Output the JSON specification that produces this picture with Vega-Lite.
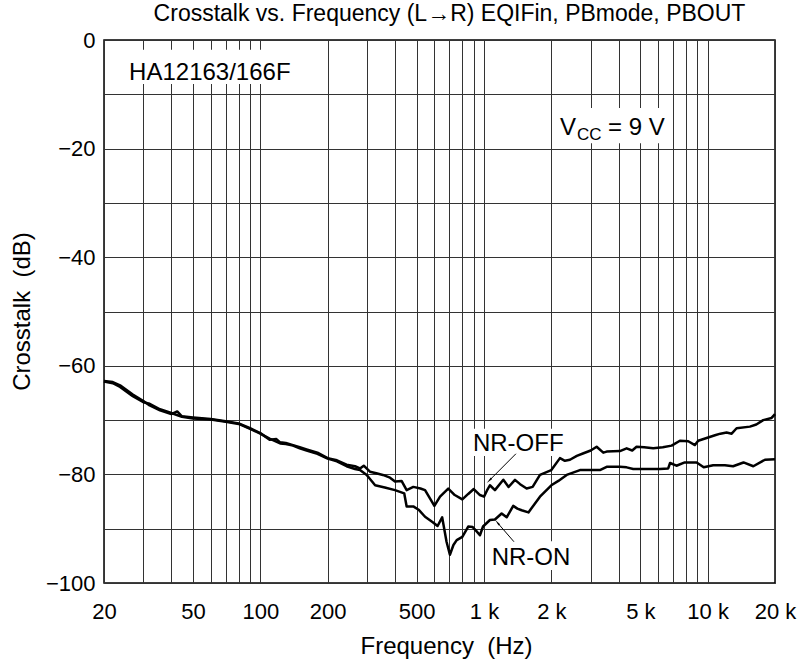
{
  "$schema": "https://vega.github.io/schema/vega-lite/v6.json",
  "width": 671,
  "height": 543,
  "autosize": {"type": "none"},
  "padding": {"left": 104, "top": 40, "right": 27, "bottom": 88},
  "background": "white",
  "config": {
    "font": "Liberation Sans",
    "view": {"stroke": "black", "strokeWidth": 1.5},
    "axis": {"labelFont": "Liberation Sans", "titleFont": "Liberation Sans", "labelColor": "black", "titleColor": "black", "titleFontWeight": "normal"}
  },
  "title": {
    "text": "Crosstalk vs. Frequency (L→R) EQIFin, PBmode, PBOUT",
    "fontSize": 23,
    "fontWeight": "normal",
    "font": "Liberation Sans",
    "color": "black",
    "anchor": "middle",
    "frame": "group",
    "offset": 3,
    "dx": 10
  },
  "datasets": {
    "curves": [
      {"series":"NR-OFF","f":20,"db":-62.8},{"series":"NR-OFF","f":21.9,"db":-63.0},{"series":"NR-OFF","f":23.6,"db":-63.6},{"series":"NR-OFF","f":26.9,"db":-65.3},{"series":"NR-OFF","f":30,"db":-66.5},{"series":"NR-OFF","f":32,"db":-67.3},{"series":"NR-OFF","f":35.6,"db":-68.2},{"series":"NR-OFF","f":40,"db":-68.9},{"series":"NR-OFF","f":42.5,"db":-68.4},{"series":"NR-OFF","f":44.6,"db":-69.3},{"series":"NR-OFF","f":50,"db":-69.5},{"series":"NR-OFF","f":60,"db":-69.8},{"series":"NR-OFF","f":70,"db":-70.2},{"series":"NR-OFF","f":80,"db":-70.6},{"series":"NR-OFF","f":90,"db":-71.5},{"series":"NR-OFF","f":100,"db":-72.4},{"series":"NR-OFF","f":110,"db":-73.6},{"series":"NR-OFF","f":118,"db":-73.5},{"series":"NR-OFF","f":122.6,"db":-74.1},{"series":"NR-OFF","f":130,"db":-74.2},{"series":"NR-OFF","f":140,"db":-74.6},{"series":"NR-OFF","f":150,"db":-75.0},{"series":"NR-OFF","f":161,"db":-75.4},{"series":"NR-OFF","f":180,"db":-76.0},{"series":"NR-OFF","f":200,"db":-77.0},{"series":"NR-OFF","f":220,"db":-77.4},{"series":"NR-OFF","f":243,"db":-78.2},{"series":"NR-OFF","f":265,"db":-78.5},{"series":"NR-OFF","f":279,"db":-78.9},{"series":"NR-OFF","f":290,"db":-78.4},{"series":"NR-OFF","f":309,"db":-79.5},{"series":"NR-OFF","f":330,"db":-79.8},{"series":"NR-OFF","f":353,"db":-80.1},{"series":"NR-OFF","f":380,"db":-80.6},{"series":"NR-OFF","f":400,"db":-81.3},{"series":"NR-OFF","f":428,"db":-81.2},{"series":"NR-OFF","f":451,"db":-82.9},{"series":"NR-OFF","f":483,"db":-82.3},{"series":"NR-OFF","f":520,"db":-82.6},{"series":"NR-OFF","f":545,"db":-82.9},{"series":"NR-OFF","f":575,"db":-84.5},{"series":"NR-OFF","f":600,"db":-85.8},{"series":"NR-OFF","f":636,"db":-84.1},{"series":"NR-OFF","f":692,"db":-82.6},{"series":"NR-OFF","f":740,"db":-83.8},{"series":"NR-OFF","f":800,"db":-84.6},{"series":"NR-OFF","f":850,"db":-83.6},{"series":"NR-OFF","f":900,"db":-82.7},{"series":"NR-OFF","f":959,"db":-83.8},{"series":"NR-OFF","f":1000,"db":-84.1},{"series":"NR-OFF","f":1030,"db":-83.0},{"series":"NR-OFF","f":1063,"db":-82.0},{"series":"NR-OFF","f":1119,"db":-82.9},{"series":"NR-OFF","f":1220,"db":-81.0},{"series":"NR-OFF","f":1288,"db":-82.3},{"series":"NR-OFF","f":1376,"db":-81.0},{"series":"NR-OFF","f":1450,"db":-81.8},{"series":"NR-OFF","f":1551,"db":-82.6},{"series":"NR-OFF","f":1650,"db":-82.3},{"series":"NR-OFF","f":1779,"db":-80.1},{"series":"NR-OFF","f":2000,"db":-79.2},{"series":"NR-OFF","f":2186,"db":-77.0},{"series":"NR-OFF","f":2300,"db":-77.5},{"series":"NR-OFF","f":2423,"db":-77.3},{"series":"NR-OFF","f":2600,"db":-76.6},{"series":"NR-OFF","f":2786,"db":-76.1},{"series":"NR-OFF","f":3000,"db":-75.6},{"series":"NR-OFF","f":3189,"db":-74.9},{"series":"NR-OFF","f":3415,"db":-76.0},{"series":"NR-OFF","f":3535,"db":-75.8},{"series":"NR-OFF","f":4052,"db":-75.7},{"series":"NR-OFF","f":4342,"db":-75.2},{"series":"NR-OFF","f":4600,"db":-75.6},{"series":"NR-OFF","f":4810,"db":-74.9},{"series":"NR-OFF","f":5200,"db":-75.0},{"series":"NR-OFF","f":5709,"db":-75.2},{"series":"NR-OFF","f":6300,"db":-75.0},{"series":"NR-OFF","f":6900,"db":-74.7},{"series":"NR-OFF","f":7516,"db":-73.8},{"series":"NR-OFF","f":8188,"db":-73.9},{"series":"NR-OFF","f":8769,"db":-74.6},{"series":"NR-OFF","f":9071,"db":-73.8},{"series":"NR-OFF","f":10050,"db":-73.2},{"series":"NR-OFF","f":10780,"db":-72.8},{"series":"NR-OFF","f":11400,"db":-72.5},{"series":"NR-OFF","f":12150,"db":-72.3},{"series":"NR-OFF","f":12800,"db":-72.5},{"series":"NR-OFF","f":13470,"db":-71.5},{"series":"NR-OFF","f":15445,"db":-71.2},{"series":"NR-OFF","f":16500,"db":-70.8},{"series":"NR-OFF","f":17715,"db":-70.0},{"series":"NR-OFF","f":19310,"db":-69.6},{"series":"NR-OFF","f":20000,"db":-68.9},
      {"series":"NR-ON","f":20,"db":-62.9},{"series":"NR-ON","f":21.9,"db":-63.2},{"series":"NR-ON","f":23.6,"db":-63.9},{"series":"NR-ON","f":26.9,"db":-65.6},{"series":"NR-ON","f":30,"db":-66.7},{"series":"NR-ON","f":32,"db":-67.0},{"series":"NR-ON","f":35.6,"db":-68.0},{"series":"NR-ON","f":40,"db":-68.7},{"series":"NR-ON","f":44.6,"db":-69.4},{"series":"NR-ON","f":50,"db":-69.7},{"series":"NR-ON","f":60,"db":-69.9},{"series":"NR-ON","f":70,"db":-70.3},{"series":"NR-ON","f":80,"db":-70.7},{"series":"NR-ON","f":90,"db":-71.6},{"series":"NR-ON","f":100,"db":-72.5},{"series":"NR-ON","f":110,"db":-73.4},{"series":"NR-ON","f":122.6,"db":-74.3},{"series":"NR-ON","f":130,"db":-74.4},{"series":"NR-ON","f":140,"db":-74.7},{"series":"NR-ON","f":150,"db":-75.2},{"series":"NR-ON","f":161,"db":-75.6},{"series":"NR-ON","f":180,"db":-76.2},{"series":"NR-ON","f":200,"db":-77.1},{"series":"NR-ON","f":220,"db":-77.6},{"series":"NR-ON","f":243,"db":-78.5},{"series":"NR-ON","f":265,"db":-79.0},{"series":"NR-ON","f":279,"db":-79.2},{"series":"NR-ON","f":299,"db":-80.1},{"series":"NR-ON","f":326,"db":-82.0},{"series":"NR-ON","f":360,"db":-82.4},{"series":"NR-ON","f":400,"db":-82.9},{"series":"NR-ON","f":440,"db":-83.5},{"series":"NR-ON","f":451,"db":-85.9},{"series":"NR-ON","f":483,"db":-85.9},{"series":"NR-ON","f":510,"db":-86.5},{"series":"NR-ON","f":545,"db":-87.8},{"series":"NR-ON","f":590,"db":-88.8},{"series":"NR-ON","f":620,"db":-89.5},{"series":"NR-ON","f":650,"db":-87.9},{"series":"NR-ON","f":680,"db":-92.4},{"series":"NR-ON","f":704,"db":-94.8},{"series":"NR-ON","f":730,"db":-93.0},{"series":"NR-ON","f":755,"db":-92.1},{"series":"NR-ON","f":800,"db":-91.5},{"series":"NR-ON","f":850,"db":-89.6},{"series":"NR-ON","f":890,"db":-89.7},{"series":"NR-ON","f":927,"db":-90.5},{"series":"NR-ON","f":959,"db":-91.2},{"series":"NR-ON","f":990,"db":-89.6},{"series":"NR-ON","f":1063,"db":-88.4},{"series":"NR-ON","f":1119,"db":-88.3},{"series":"NR-ON","f":1199,"db":-87.2},{"series":"NR-ON","f":1263,"db":-87.9},{"series":"NR-ON","f":1351,"db":-85.8},{"series":"NR-ON","f":1410,"db":-86.3},{"series":"NR-ON","f":1473,"db":-86.6},{"series":"NR-ON","f":1580,"db":-87.0},{"series":"NR-ON","f":1779,"db":-84.1},{"series":"NR-ON","f":2000,"db":-82.0},{"series":"NR-ON","f":2150,"db":-81.2},{"series":"NR-ON","f":2342,"db":-80.1},{"series":"NR-ON","f":2685,"db":-79.2},{"series":"NR-ON","f":3079,"db":-79.2},{"series":"NR-ON","f":3298,"db":-79.2},{"series":"NR-ON","f":3535,"db":-78.6},{"series":"NR-ON","f":4052,"db":-78.6},{"series":"NR-ON","f":4342,"db":-78.7},{"series":"NR-ON","f":4647,"db":-79.0},{"series":"NR-ON","f":5400,"db":-79.0},{"series":"NR-ON","f":6115,"db":-79.0},{"series":"NR-ON","f":6662,"db":-78.9},{"series":"NR-ON","f":6790,"db":-77.9},{"series":"NR-ON","f":7250,"db":-78.4},{"series":"NR-ON","f":7900,"db":-77.8},{"series":"NR-ON","f":8925,"db":-77.8},{"series":"NR-ON","f":9600,"db":-78.7},{"series":"NR-ON","f":10586,"db":-78.3},{"series":"NR-ON","f":11940,"db":-78.3},{"series":"NR-ON","f":12990,"db":-78.5},{"series":"NR-ON","f":14460,"db":-77.8},{"series":"NR-ON","f":16000,"db":-78.5},{"series":"NR-ON","f":18040,"db":-77.3},{"series":"NR-ON","f":20000,"db":-77.2}
    ],
    "boxes": [
      {"name":"model","f1":23.6,"f2":150,"d1":-1.8,"d2":-8.1},
      {"name":"vcc","f1":2076,"f2":6440,"d1":-12.5,"d2":-19.0},
      {"name":"off","f1":865,"f2":2301,"d1":-71.6,"d2":-76.6},
      {"name":"on","f1":1041,"f2":2524,"d1":-92.3,"d2":-97.6}
    ],
    "labels": [
      {"text":"HA12163/166F","f":25.9,"db":-7.4},
      {"text":"NR-OFF","f":892,"db":-75.6},
      {"text":"NR-ON","f":1082,"db":-96.6}
    ],
    "vcc": [{"f":2186,"db":-17.5}],
    "arrows": [
      {"name":"off","f1":1389,"d1":-76.2,"f2":1063,"d2":-81.0},
      {"name":"on","f1":1361,"d1":-92.4,"f2":1154,"d2":-89.0}
    ]
  },
  "layer": [
    {
      "data": {"name": "curves"},
      "mark": {"type": "line", "color": "black", "strokeWidth": 2.5, "strokeJoin": "round"},
      "encoding": {
        "x": {
          "field": "f", "type": "quantitative",
          "scale": {"type": "log", "domain": [20, 20000], "nice": false},
          "axis": {
            "values": [20,30,40,50,60,70,80,90,100,200,300,400,500,600,700,800,900,1000,2000,3000,4000,5000,6000,7000,8000,9000,10000,20000],
            "labelExpr": "(datum.value == 20 || datum.value == 50 || datum.value == 100 || datum.value == 200 || datum.value == 500) ? '' + datum.value : ((datum.value == 1000 || datum.value == 2000 || datum.value == 5000 || datum.value == 10000 || datum.value == 20000) ? (datum.value / 1000) + ' k' : '')",
            "grid": true, "gridColor": "#333", "gridWidth": 1, "gridOpacity": 1,
            "ticks": false, "domain": false,
            "labelFontSize": 22, "labelPadding": 18, "labelOverlap": false, "labelFlush": false, "labelBaseline": "top",
            "title": "Frequency\u00a0 (Hz)", "titleFontSize": 24,
            "titleX": 342, "titleY": 70, "titleAlign": "center", "titleBaseline": "alphabetic"
          }
        },
        "y": {
          "field": "db", "type": "quantitative",
          "scale": {"domain": [-100, 0], "nice": false},
          "axis": {
            "values": [-100,-90,-80,-70,-60,-50,-40,-30,-20,-10,0],
            "labelExpr": "datum.value % 20 == 0 ? (datum.value < 0 ? '−' + abs(datum.value) : '' + datum.value) : ''",
            "grid": true, "gridColor": "#333", "gridWidth": 1, "gridOpacity": 1,
            "ticks": false, "domain": false,
            "labelFontSize": 22, "labelPadding": 9, "labelOverlap": false, "labelFlush": false,
            "title": "Crosstalk\u00a0 (dB)", "titleFontSize": 24,
            "titleAngle": -90, "titleX": -82, "titleY": 271, "titleAlign": "center", "titleBaseline": "middle"
          }
        },
        "detail": {"field": "series", "type": "nominal"}
      }
    },
    {
      "data": {"name": "boxes"},
      "mark": {"type": "rect", "fill": "white"},
      "encoding": {
        "x": {"field": "f1", "type": "quantitative"},
        "x2": {"field": "f2"},
        "y": {"field": "d1", "type": "quantitative"},
        "y2": {"field": "d2"}
      }
    },
    {
      "data": {"name": "labels"},
      "mark": {"type": "text", "align": "left", "baseline": "alphabetic", "fontSize": 24, "font": "Liberation Sans", "color": "black"},
      "encoding": {
        "x": {"field": "f", "type": "quantitative"},
        "y": {"field": "db", "type": "quantitative"},
        "text": {"field": "text"}
      }
    },
    {
      "data": {"name": "vcc"},
      "mark": {"type": "text", "align": "left", "baseline": "alphabetic", "fontSize": 24, "font": "Liberation Sans", "color": "black", "text": "V"},
      "encoding": {"x": {"field": "f", "type": "quantitative"}, "y": {"field": "db", "type": "quantitative"}}
    },
    {
      "data": {"name": "vcc"},
      "mark": {"type": "text", "align": "left", "baseline": "alphabetic", "fontSize": 17, "font": "Liberation Sans", "color": "black", "text": "CC", "dx": 17, "dy": 5},
      "encoding": {"x": {"field": "f", "type": "quantitative"}, "y": {"field": "db", "type": "quantitative"}}
    },
    {
      "data": {"name": "vcc"},
      "mark": {"type": "text", "align": "left", "baseline": "alphabetic", "fontSize": 24, "font": "Liberation Sans", "color": "black", "text": "= 9 V", "dx": 48},
      "encoding": {"x": {"field": "f", "type": "quantitative"}, "y": {"field": "db", "type": "quantitative"}}
    },
    {
      "data": {"name": "arrows"},
      "mark": {"type": "rule", "color": "black", "strokeWidth": 1},
      "encoding": {
        "x": {"field": "f1", "type": "quantitative"},
        "x2": {"field": "f2"},
        "y": {"field": "d1", "type": "quantitative"},
        "y2": {"field": "d2"}
      }
    },
    {
      "data": {"name": "arrows"},
      "transform": [{"filter": "datum.name == 'off'"}],
      "mark": {"type": "point", "shape": "wedge", "filled": true, "color": "black", "size": 60, "angle": 225, "opacity": 1},
      "encoding": {"x": {"field": "f2", "type": "quantitative"}, "y": {"field": "d2", "type": "quantitative"}}
    },
    {
      "data": {"name": "arrows"},
      "transform": [{"filter": "datum.name == 'on'"}],
      "mark": {"type": "point", "shape": "wedge", "filled": true, "color": "black", "size": 60, "angle": 320, "opacity": 1},
      "encoding": {"x": {"field": "f2", "type": "quantitative"}, "y": {"field": "d2", "type": "quantitative"}}
    }
  ]
}
